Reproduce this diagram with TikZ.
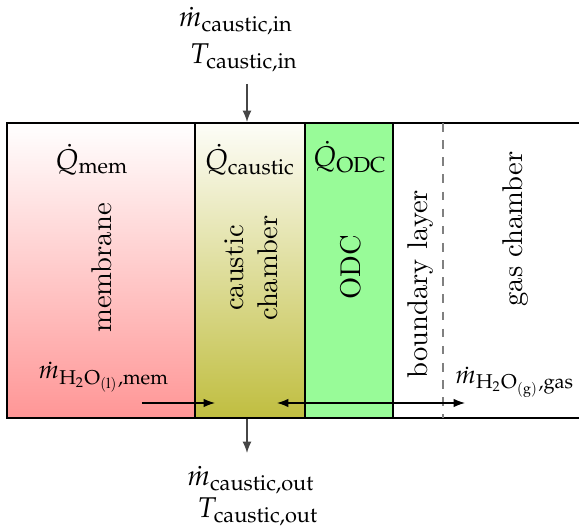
\documentclass[tikz,border=0pt]{standalone}
\usepackage{mathpazo}
\usetikzlibrary{arrows.meta}
\definecolor{memred}{RGB}{255,150,150}
\definecolor{causticol}{RGB}{192,190,64}
\definecolor{caustictop}{RGB}{253,253,248}
\definecolor{odcgreen}{RGB}{152,251,152}
\definecolor{flowgray}{RGB}{70,70,70}
\begin{document}
\begin{tikzpicture}[x=0.35pt,y=-0.35pt,
  lbl/.style={inner sep=0pt,font=\fontsize{10}{12}\selectfont},
  slbl/.style={inner sep=0pt,font=\fontsize{9}{11}\selectfont},
  vlbl/.style={lbl,rotate=90,align=center},
  flow/.style={-{Latex[length=4pt,width=3.2pt]},flowgray,line width=0.5pt},
  hflow/.style={line width=0.45pt,black},
  wall/.style={line width=0.55pt,black}]
\useasboundingbox (0,0) rectangle (579,530);
% fills
\shade[top color=white,bottom color=memred] (7,123) rectangle (195,418);
\shade[top color=caustictop,bottom color=causticol] (195,123) rectangle (305,418);
\fill[odcgreen] (305,123) rectangle (393,418);
% walls
\draw[wall] (579,123) -- (7,123) -- (7,418) -- (579,418);
\draw[wall] (195,123) -- (195,418);
\draw[wall] (305,123) -- (305,418);
\draw[wall] (393,123) -- (393,418);
\draw[gray,dashed,line width=0.5pt] (443,123) -- (443,418);
% heat labels
\node[lbl] (qmem) at (92,160) {$\dot{Q}_\mathrm{mem}$};
\node[lbl] (qcau) at (250,160) {$\dot{Q}_\mathrm{caustic}$};
\node[lbl] (qodc) at (350,157) {$\dot{Q}_\mathrm{ODC}$};
% region labels
\node[vlbl] (mem) at (102,268) {membrane};
\node[vlbl] (cau) at (251,268) {caustic\\chamber};
\node[vlbl] (odc) at (351,267) {ODC};
\node[vlbl] (bl) at (421,284) {boundary layer};
\node[vlbl] (gas) at (516,229) {gas chamber};
% water flows
\node[slbl] (mwl) at (104,377) {$\dot{m}_{\mathrm{H_2O}_{(\mathrm{l})},\mathrm{mem}}$};
\node[slbl] (mwg) at (515,382) {$\dot{m}_{\mathrm{H_2O}_{(\mathrm{g})},\mathrm{gas}}$};
\coordinate (a1) at (142,403);
\coordinate (a2) at (215,403);
\coordinate (b1) at (277,403);
\coordinate (b2) at (465,403);
\draw[hflow,-{Latex[length=4pt,width=3pt]}] (a1) -- (a2);
\draw[hflow,{Latex[length=4pt,width=3pt]}-{Latex[length=4pt,width=3pt]}] (b1) -- (b2);
% caustic in/out
\node[lbl] (min) at (236,21) {$\dot{m}_\mathrm{caustic,in}$};
\node[lbl] (tin) at (244,58) {$T_\mathrm{caustic,in}$};
\node[lbl] (mout) at (251,480) {$\dot{m}_\mathrm{caustic,out}$};
\node[lbl] (tout) at (258,512) {$T_\mathrm{caustic,out}$};
\coordinate (inA) at (247,84);
\coordinate (inB) at (247,122);
\coordinate (outA) at (247,419);
\coordinate (outB) at (247,453);
\draw[flow] (inA) -- (inB);
\draw[flow] (outA) -- (outB);
\end{tikzpicture}
\end{document}
